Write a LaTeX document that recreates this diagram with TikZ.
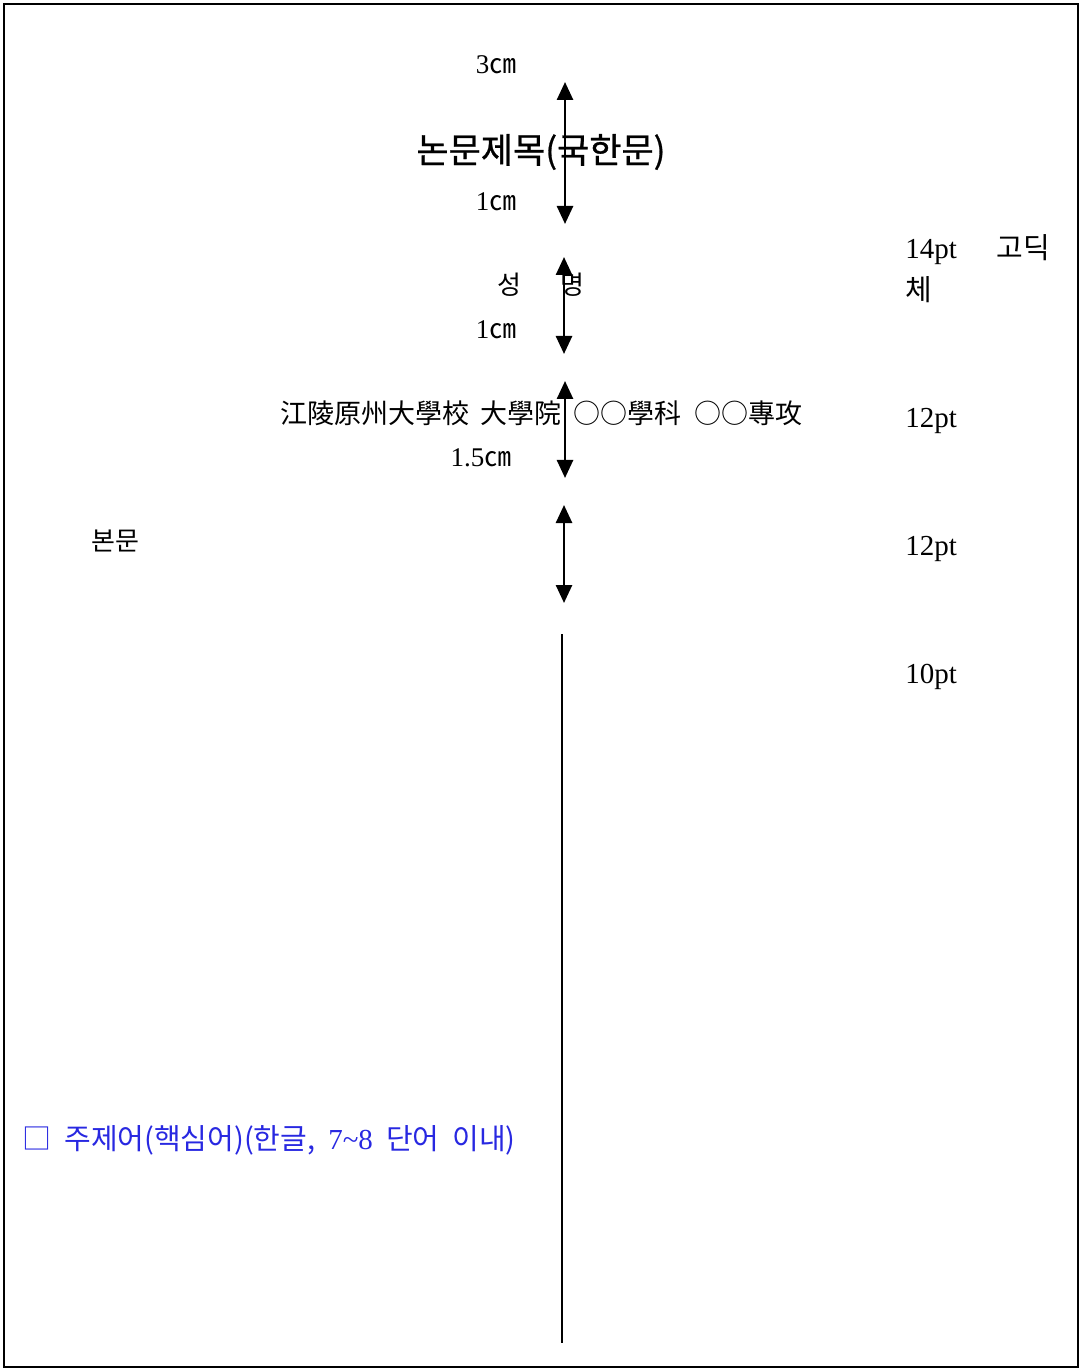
\documentclass[tikz,border=0pt]{standalone}
\usepackage{fontspec}
\setmainfont{Liberation Serif}
\newfontfamily\cjk{Noto Sans CJK KR}
\newfontfamily\cjktitle[FakeBold=0.8]{Noto Sans CJK KR}
\usetikzlibrary{arrows.meta}
\definecolor{keyblue}{RGB}{40,40,225}

\begin{document}
\begin{tikzpicture}[x=0.5pt,y=-0.5pt,
    every node/.append style={inner sep=0pt,font=\fontsize{13.5}{21}\selectfont},
    sizelabel/.style={anchor=west,font=\fontsize{14.5}{21}\selectfont},
    gap/.style={{Triangle[length=9pt,width=8pt]}-{Triangle[length=9pt,width=8pt]},line width=1.3pt}]
    \useasboundingbox (0,0) rectangle (1080,1368);
    \draw[line width=1pt] (4,4) rectangle (1078,1367);

    % left column
    \node (top) at (496,65) {3{\cjk ㎝}};
    \node[font=\cjktitle\fontsize{17.5}{20}\selectfont] (title) at (541,152) {논문제목(국한문)};
    \node (gap1) at (496,202) {1{\cjk ㎝}};
    \node[font=\cjk\fontsize{13}{16}\selectfont] (name) at (541,285) {성\hspace{20pt}명};
    \node (gap2) at (496,330) {1{\cjk ㎝}};
    \node[font=\cjk\fontsize{13.5}{16}\selectfont] (school) at (541,413)
        {江陵原州大學校\hspace{6pt}大學院\hspace{6pt}○○學科\hspace{6pt}○○專攻};
    \node (gap3) at (481,458) {1.5{\cjk ㎝}};
    \node[font=\cjk\fontsize{13}{16}\selectfont] (body) at (115,541) {본문};
    \node[font=\cjk\fontsize{14.5}{16}\selectfont,text=keyblue,anchor=west] (keys) at (22,1140)
        {□\hspace{6.5pt}주제어(핵심어)(한글,\hspace{6.5pt}{\rmfamily 7\textasciitilde 8}\hspace{6.5pt}단어\hspace{6.5pt}이내)};

    % right column
    \node[sizelabel,align=left] (size1) at (905,269) {14pt\hspace{20pt}{\cjk 고딕}\\{\cjk 체}};
    \node[sizelabel] (size2) at (905,421) {12pt};
    \node[sizelabel] (size3) at (905,549) {12pt};
    \node[sizelabel] (size4) at (905,677) {10pt};

    % spacing arrows
    \coordinate (a1) at (565,82);  \coordinate (b1) at (565,224);
    \coordinate (a2) at (564,257); \coordinate (b2) at (564,354);
    \coordinate (a3) at (565,381); \coordinate (b3) at (565,478);
    \coordinate (a4) at (564,505); \coordinate (b4) at (564,603);
    \coordinate (rule1) at (562,634); \coordinate (rule2) at (562,1343);

    \path[gap]
        (a1) edge (b1)
        (a2) edge (b2)
        (a3) edge (b3)
        (a4) edge (b4);
    \draw[line width=0.6pt] (rule1) -- (rule2);
\end{tikzpicture}
\end{document}
